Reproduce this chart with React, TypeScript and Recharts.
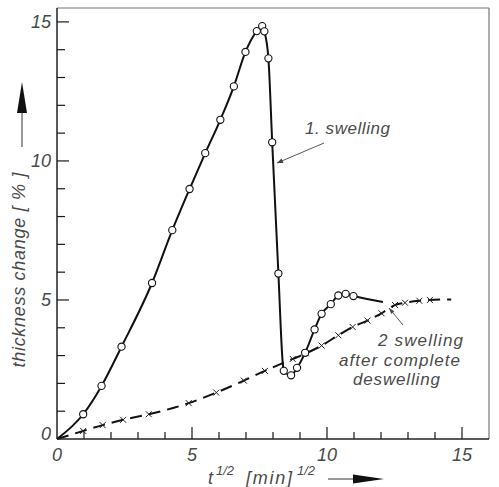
import { ComposedChart, Line, XAxis, YAxis, ReferenceLine, Customized } from "recharts";

// 1. swelling: measured points (circles)
const swell1T = [0.97, 1.65, 2.39, 3.52, 4.27, 4.91, 5.49, 6.05, 6.55, 6.98, 7.4, 7.6, 7.68, 7.83, 7.97, 8.2, 8.4, 8.67, 8.89, 9.19, 9.54, 9.8, 10.14, 10.42, 10.69, 10.98];
const swell1V = [0.89, 1.91, 3.32, 5.61, 7.51, 8.99, 10.28, 11.48, 12.68, 13.92, 14.67, 14.85, 14.66, 13.69, 10.67, 5.95, 2.45, 2.29, 2.56, 3.1, 3.94, 4.5, 4.85, 5.16, 5.22, 5.14];
// curve nodes without a marker (origin, bottom of the drop, end of the line)
const swell1LineT = [0, 8.36, 12.07];
const swell1LineV = [0, 2.75, 4.93];

// 2. swelling after complete deswelling: measured points (crosses)
const swell2T = [0.97, 1.69, 2.45, 3.4, 4.88, 5.9, 6.92, 7.7, 8.73, 9.22, 9.8, 10.42, 10.95, 11.5, 12.02, 12.52, 12.89, 13.42, 13.81];
const swell2V = [0.29, 0.5, 0.69, 0.89, 1.29, 1.67, 2.1, 2.45, 2.88, 3.08, 3.36, 3.73, 4.03, 4.26, 4.52, 4.82, 4.9, 4.97, 5.0];
const swell2LineT = [0, 14.6];
const swell2LineV = [0, 5.02];

const xTicks = [0, 1, 2, 3, 4, 5, 6, 7, 8, 9, 10, 11, 12, 13, 14, 15];
const yTicks = [0, 1, 2, 3, 4, 5, 6, 7, 8, 9, 10, 11, 12, 13, 14, 15];
const labelled = [0, 5, 10, 15];
const X_MAX = 16;
const Y_MAX = 15.5;

// plot box (the chart margins below are derived from it)
const W = 499;
const H = 487;
const LEFT = 57;
const TOP = 8;
const RIGHT = 489;
const BOTTOM = 439;

const toPts = (t: number[], v: number[]) => t.map((x, i) => ({ x, y: v[i] }));
const merged = (a: { x: number; y: number }[], b: { x: number; y: number }[]) =>
  [...a, ...b].sort((p, q) => p.x - q.x);

const s1Marks = toPts(swell1T, swell1V);
const s1Line = merged(s1Marks, toPts(swell1LineT, swell1LineV));
const s2Marks = toPts(swell2T, swell2V);
const s2Line = merged(s2Marks, toPts(swell2LineT, swell2LineV));

const fam = "Liberation Sans, Arial, sans-serif";
const ink = "#4a4a4a";

const xTick = (p: any) => {
  const v = p.payload.value;
  if (!labelled.includes(v)) return <g key={`xt-${v}`} />;
  return (
    <text key={`xt-${v}`} x={p.x} y={p.y + 22} textAnchor="middle" fontSize={18} fill={ink} fontFamily={fam} fontStyle="italic">
      {v}
    </text>
  );
};

const yTick = (p: any) => {
  const v = p.payload.value;
  if (!labelled.includes(v)) return <g key={`yt-${v}`} />;
  return (
    <text key={`yt-${v}`} x={p.x - 6} y={p.y + (v === 0 ? 1 : 6)} textAnchor="end" fontSize={18} fill={ink} fontFamily={fam} fontStyle="italic">
      {v}
    </text>
  );
};

const circleDot = (p: any) => (
  <circle key={`c-${p.index}`} cx={p.cx} cy={p.cy} r={3.6} fill="#fff" stroke="#111" strokeWidth={1.1} />
);
const crossDot = (p: any) => (
  <g key={`x-${p.index}`} stroke="#222" strokeWidth={1}>
    <line x1={p.cx - 3} y1={p.cy - 3} x2={p.cx + 3} y2={p.cy + 3} />
    <line x1={p.cx - 3} y1={p.cy + 3} x2={p.cx + 3} y2={p.cy - 3} />
  </g>
);

// inward tick stubs on the same linear mapping as the axes
const Stubs = () => {
  const px = (v: number) => LEFT + (v / X_MAX) * (RIGHT - LEFT);
  const py = (v: number) => BOTTOM - (v / Y_MAX) * (BOTTOM - TOP);
  return (
    <g stroke="#1a1a1a" strokeWidth={1.2}>
      {xTicks.filter((v) => v > 0).map((v) => (
        <line key={`xs-${v}`} x1={px(v)} x2={px(v)} y1={BOTTOM} y2={BOTTOM - (labelled.includes(v) ? 12 : 7)} />
      ))}
      {yTicks.filter((v) => v > 0).map((v) => (
        <line key={`ys-${v}`} y1={py(v)} y2={py(v)} x1={LEFT} x2={LEFT + (labelled.includes(v) ? 12 : 8)} />
      ))}
    </g>
  );
};

// axis titles and the two leader annotations
const Notes = () => (
  <g fontFamily={fam} fontStyle="italic" fill={ink}>
    <Stubs />
    <text
      x={0}
      y={0}
      transform="translate(19,270) rotate(-90)"
      textAnchor="middle"
      dominantBaseline="central"
      fontSize={18}
      textLength={195}
      lengthAdjust="spacing"
    >
      thickness change [ % ]
    </text>
    <line x1={22} y1={147} x2={22} y2={113} stroke="#333" strokeWidth={1} />
    <polygon points="17,113 27,113 22,82" fill="#111" />

    <text x={208} y={484} fontSize={18}>t</text>
    <text x={216} y={475} fontSize={13}>1/2</text>
    <text x={246} y={484} fontSize={18} textLength={46} lengthAdjust="spacing">[min]</text>
    <text x={297} y={475} fontSize={13}>1/2</text>
    <line x1={328} y1={479} x2={354} y2={479} stroke="#333" strokeWidth={1} />
    <polygon points="353,474.5 353,483.5 384,479" fill="#111" />

    <text x={305} y={134} fontSize={17} textLength={85} lengthAdjust="spacing">1. swelling</text>
    <line x1={324} y1={143} x2={277} y2={163} stroke="#444" strokeWidth={0.9} />
    <polygon points="277,163 283.5,163 281.5,158.4" fill="#444" />

    <text x={378} y={346} fontSize={17} textLength={85} lengthAdjust="spacing">2 swelling</text>
    <text x={339} y={366} fontSize={17} textLength={121} lengthAdjust="spacing">after complete</text>
    <text x={353} y={385} fontSize={17} textLength={87} lengthAdjust="spacing">deswelling</text>
    <line x1={403} y1={325} x2={389} y2={308} stroke="#444" strokeWidth={0.9} />
    <polygon points="389,308 394.3,311.3 391.3,313.9" fill="#444" />
  </g>
);

export default function App() {
  return (
    <div style={{ position: "fixed", left: 0, top: 0, width: W, height: H, background: "#fff" }}>
      <ComposedChart width={W} height={H} margin={{ top: TOP, right: W - RIGHT, bottom: 0, left: 0 }}>
        <XAxis
          dataKey="x"
          type="number"
          domain={[0, X_MAX]}
          ticks={xTicks}
          interval={0}
          height={H - BOTTOM}
          tickSize={0}
          tickMargin={0}
          tickLine={false}
          tick={xTick}
          axisLine={{ stroke: "#222", strokeWidth: 1.5 }}
        />
        <YAxis
          type="number"
          domain={[0, Y_MAX]}
          ticks={yTicks}
          interval={0}
          width={LEFT}
          tickSize={0}
          tickMargin={0}
          tickLine={false}
          tick={yTick}
          axisLine={{ stroke: "#222", strokeWidth: 1.5 }}
        />
        {/* plot frame */}
        <ReferenceLine y={Y_MAX} stroke="#777" strokeWidth={1.2} />
        <ReferenceLine x={X_MAX} stroke="#777" strokeWidth={1.2} />

        <Line data={s2Line} dataKey="y" type="monotone" stroke="#111" strokeWidth={2} strokeDasharray="12 7" dot={false} activeDot={false} isAnimationActive={false} />
        <Line data={s1Line} dataKey="y" type="monotone" stroke="#111" strokeWidth={2} dot={false} activeDot={false} isAnimationActive={false} />
        <Line data={s2Marks} dataKey="y" stroke="none" dot={crossDot} activeDot={false} isAnimationActive={false} />
        <Line data={s1Marks} dataKey="y" stroke="none" dot={circleDot} activeDot={false} isAnimationActive={false} />
        <Customized component={Notes} />
      </ComposedChart>
    </div>
  );
}
